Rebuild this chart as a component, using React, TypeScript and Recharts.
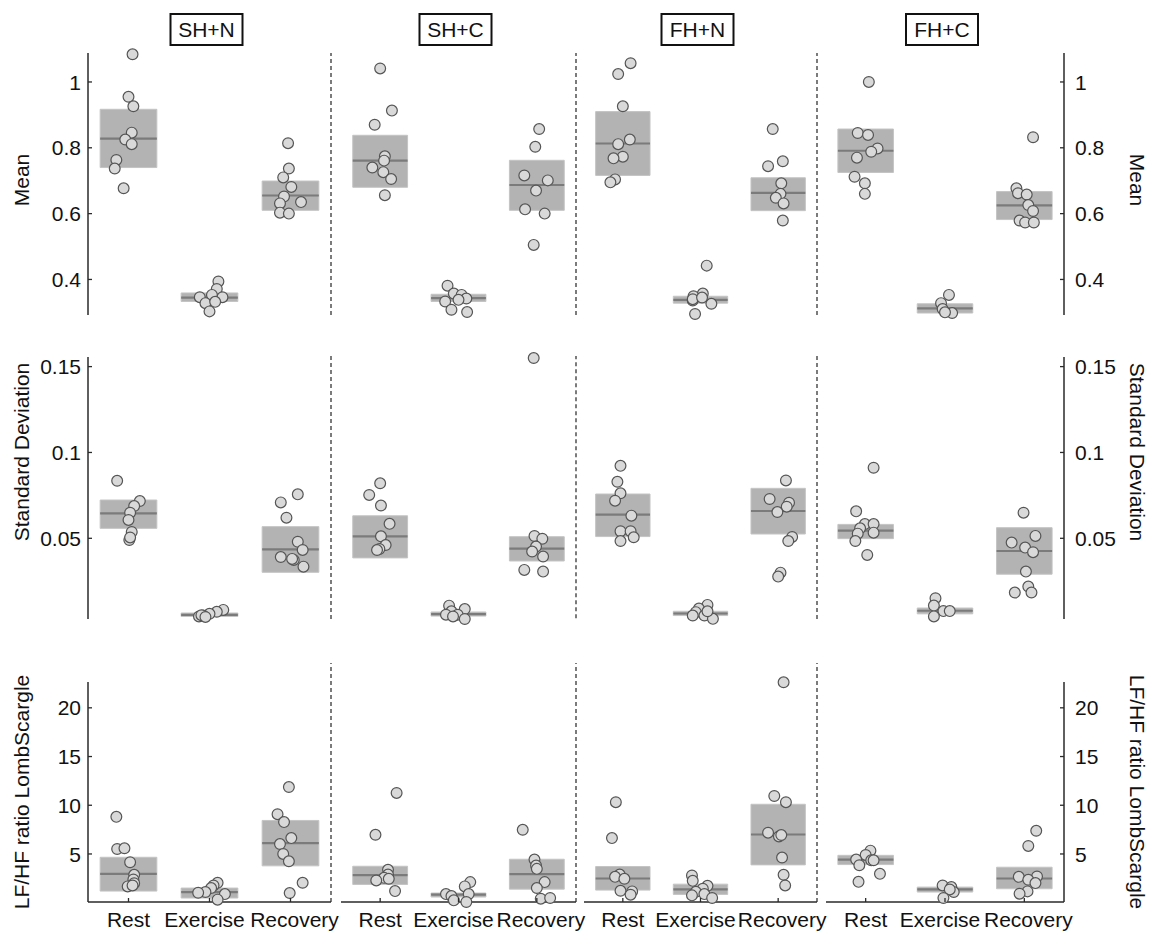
import React from "react";
import {
  ComposedChart,
  Scatter,
  XAxis,
  YAxis,
  ReferenceArea,
  ReferenceLine,
} from "recharts";

// labels
const groups = ["SH+N", "SH+C", "FH+N", "FH+C"];
const categories = ["Rest", "Exercise", "Recovery"];
const rowLabels = ["Mean", "Standard Deviation", "LF/HF ratio LombScargle"];

// axes
const meanTicks = [0.4, 0.6, 0.8, 1];
const sdTicks = [0.05, 0.1, 0.15];
const lfhfTicks = [5, 10, 15, 20];
const meanDomain = [0.292, 1.088];
const sdDomain = [0.003, 0.1556];
const lfhfDomain = [0.07, 22.65];

// points: [horizontal jitter, value] per category (Rest, Exercise, Recovery)
const meanSHN = [
  [[0.05, 1.084], [0, 0.955], [0.06, 0.926], [0.04, 0.846], [-0.04, 0.825], [0.04, 0.811], [-0.15, 0.763], [-0.17, 0.737], [-0.06, 0.677]],
  [[0.11, 0.394], [0.09, 0.371], [0.03, 0.353], [-0.12, 0.346], [0.16, 0.346], [-0.05, 0.328], [0.07, 0.332], [0, 0.303]],
  [[-0.03, 0.814], [-0.02, 0.737], [-0.09, 0.71], [0.01, 0.681], [-0.08, 0.652], [0.13, 0.635], [-0.13, 0.631], [-0.13, 0.603], [-0.02, 0.6]],
];
const meanSHC = [
  [[0, 1.041], [0.15, 0.913], [-0.07, 0.87], [0.06, 0.774], [0.05, 0.761], [-0.1, 0.74], [0.04, 0.726], [0.14, 0.705], [0.06, 0.656]],
  [[-0.14, 0.381], [-0.06, 0.357], [0.04, 0.353], [0.1, 0.342], [-0.17, 0.333], [0, 0.338], [-0.09, 0.308], [0.11, 0.301]],
  [[0.03, 0.857], [-0.02, 0.803], [-0.16, 0.716], [0.14, 0.701], [-0.01, 0.67], [-0.15, 0.613], [0.1, 0.6], [-0.04, 0.505]],
];
const meanFHN = [
  [[0.1, 1.057], [-0.06, 1.024], [0, 0.926], [0.09, 0.825], [-0.06, 0.811], [0, 0.773], [-0.12, 0.768], [-0.1, 0.704], [-0.16, 0.695]],
  [[0.08, 0.442], [0.03, 0.357], [-0.09, 0.349], [-0.1, 0.336], [0.14, 0.326], [-0.07, 0.295], [-0.1, 0.34], [0.02, 0.345]],
  [[-0.07, 0.857], [0.06, 0.759], [-0.13, 0.744], [0.04, 0.692], [0.03, 0.66], [-0.03, 0.648], [0.07, 0.631], [0.06, 0.579]],
];
const meanFHC = [
  [[0.04, 1.0], [-0.1, 0.845], [0.03, 0.839], [0.15, 0.798], [0.07, 0.788], [-0.11, 0.77], [-0.14, 0.712], [-0.01, 0.692], [-0.01, 0.66]],
  [[0.05, 0.353], [-0.05, 0.328], [-0.03, 0.31], [0.09, 0.298], [0, 0.3]],
  [[0.11, 0.832], [-0.1, 0.677], [-0.08, 0.662], [0.03, 0.658], [0.05, 0.626], [0.11, 0.608], [-0.06, 0.579], [0.01, 0.573], [0.12, 0.573]],
];

const sdSHN = [
  [[-0.14, 0.0835], [0.14, 0.0717], [0.07, 0.0688], [0.02, 0.0649], [0, 0.0607], [0.04, 0.0537], [0.01, 0.049], [0.02, 0.0505]],
  [[0.17, 0.0083], [0.09, 0.0072], [0, 0.006], [-0.08, 0.005], [-0.13, 0.0045], [-0.1, 0.0052], [-0.05, 0.0042]],
  [[0.09, 0.0756], [-0.12, 0.0709], [-0.05, 0.062], [0.09, 0.048], [0.15, 0.0432], [-0.12, 0.0391], [0.04, 0.0374], [0.16, 0.0335], [0.02, 0.038]],
];
const sdSHC = [
  [[0, 0.0818], [-0.14, 0.075], [0.01, 0.0688], [0.12, 0.0581], [0.01, 0.0508], [0.07, 0.0457], [-0.01, 0.0434], [-0.04, 0.0428]],
  [[-0.12, 0.0103], [0.08, 0.0083], [-0.09, 0.007], [-0.16, 0.005], [-0.01, 0.005], [-0.07, 0.004], [0.08, 0.0025]],
  [[-0.04, 0.155], [-0.03, 0.051], [0.07, 0.0494], [-0.01, 0.0448], [-0.06, 0.0419], [0.08, 0.039], [-0.16, 0.0312], [0.08, 0.0302]],
];
const sdFHN = [
  [[-0.03, 0.0922], [-0.07, 0.0829], [-0.03, 0.0762], [-0.1, 0.0719], [0.11, 0.0632], [-0.03, 0.0541], [0.1, 0.0541], [0.14, 0.0506], [-0.03, 0.0484]],
  [[0.09, 0.0112], [-0.02, 0.0091], [-0.06, 0.007], [-0.1, 0.005], [0.05, 0.005], [0.16, 0.0031], [0.09, 0.0075]],
  [[0.1, 0.0837], [-0.11, 0.0729], [0.14, 0.0707], [0.11, 0.0684], [-0.01, 0.0653], [0.18, 0.0508], [0.13, 0.0484], [0.03, 0.03], [0, 0.0277]],
];
const sdFHC = [
  [[0.1, 0.0911], [-0.12, 0.0657], [-0.01, 0.0583], [0.1, 0.0583], [-0.07, 0.0558], [-0.1, 0.0527], [0.1, 0.0533], [-0.13, 0.0484], [0.02, 0.0403]],
  [[-0.12, 0.0151], [-0.14, 0.0108], [-0.02, 0.0076], [0.06, 0.0076], [-0.14, 0.0045]],
  [[-0.01, 0.0649], [0.14, 0.0514], [-0.16, 0.0475], [0.01, 0.0446], [0.11, 0.0419], [0.02, 0.0306], [0.05, 0.0219], [-0.12, 0.0184], [0.09, 0.0184]],
];

const lfSHN = [
  [[-0.15, 8.81], [-0.14, 5.51], [-0.05, 5.58], [0.02, 4.15], [0.07, 2.86], [0.06, 2.38], [0.07, 2.0], [-0.01, 1.67], [0.05, 1.77]],
  [[0.1, 2.04], [0.05, 1.77], [0.02, 1.5], [-0.05, 1.09], [-0.14, 1.02], [0.19, 0.88], [0.1, 0.31]],
  [[-0.02, 11.87], [-0.16, 9.08], [-0.08, 8.27], [0.01, 6.63], [-0.13, 6.02], [-0.09, 5.0], [-0.02, 4.25], [0.15, 2.04], [-0.01, 0.99]],
];
const lfSHC = [
  [[0.21, 11.26], [-0.06, 6.97], [0.1, 3.37], [0.1, 2.89], [0.05, 2.55], [-0.05, 2.28], [0.11, 2.45], [0.19, 1.19]],
  [[0.15, 2.11], [0.08, 1.67], [-0.16, 0.88], [0.13, 0.88], [-0.09, 0.68], [-0.06, 0.24], [0.1, 0.07]],
  [[-0.18, 7.48], [-0.03, 4.42], [-0.01, 3.81], [0, 3.47], [0.1, 2.11], [0, 1.5], [0.05, 0.41], [0.17, 0.48]],
];
const lfFHN = [
  [[-0.09, 10.31], [-0.14, 6.63], [-0.04, 2.89], [-0.1, 2.65], [0.02, 2.45], [-0.03, 1.22], [0.12, 1.16], [0.1, 0.82]],
  [[-0.11, 2.79], [-0.1, 2.24], [0.09, 1.73], [0.03, 1.43], [-0.06, 1.12], [-0.11, 0.75], [0.05, 0.88], [0.15, 0.48]],
  [[0.07, 22.62], [-0.05, 10.95], [0.1, 10.31], [-0.13, 7.18], [0.01, 6.8], [0.04, 6.94], [0.05, 4.63], [0.07, 2.86], [0.09, 1.77]],
];
const lfFHC = [
  [[0.06, 5.34], [0, 4.9], [-0.12, 4.42], [0.07, 4.35], [0.1, 4.35], [-0.08, 3.84], [0.18, 2.96], [-0.09, 2.14]],
  [[-0.03, 1.77], [0.08, 1.6], [0.11, 1.09], [0.06, 1.36], [-0.02, 0.48]],
  [[0.15, 7.38], [0.05, 5.82], [-0.07, 2.65], [0.16, 2.69], [0.05, 2.35], [0.14, 2.01], [0.04, 1.16], [-0.06, 0.92]],
];

// boxes: [low, middle, high] per category
const meanBoxSHN = [[0.74, 0.828, 0.917], [0.333, 0.345, 0.359], [0.61, 0.655, 0.699]];
const meanBoxSHC = [[0.68, 0.761, 0.838], [0.333, 0.343, 0.355], [0.61, 0.687, 0.762]];
const meanBoxFHN = [[0.716, 0.813, 0.91], [0.328, 0.338, 0.349], [0.609, 0.663, 0.709]];
const meanBoxFHC = [[0.725, 0.791, 0.857], [0.298, 0.312, 0.326], [0.582, 0.625, 0.667]];
const sdBoxSHN = [[0.0558, 0.0645, 0.0723], [0.0045, 0.0054, 0.0065], [0.0302, 0.0436, 0.0568]];
const sdBoxSHC = [[0.0382, 0.0508, 0.0628], [0.0042, 0.0054, 0.0066], [0.0364, 0.0436, 0.0506]];
const sdBoxFHN = [[0.051, 0.0638, 0.0758], [0.005, 0.0062, 0.0075], [0.0525, 0.0659, 0.0791]];
const sdBoxFHC = [[0.0498, 0.0545, 0.0581], [0.006, 0.0078, 0.0094], [0.0291, 0.0426, 0.0562]];
const lfBoxSHN = [[1.19, 2.96, 4.66], [0.48, 1.09, 1.5], [3.78, 6.12, 8.44]];
const lfBoxSHC = [[1.87, 2.82, 3.74], [0.58, 0.82, 0.99], [1.39, 2.93, 4.46]];
const lfBoxFHN = [[1.29, 2.48, 3.71], [0.85, 1.36, 1.9], [3.88, 7.0, 10.1]];
const lfBoxFHC = [[3.91, 4.42, 4.86], [1.09, 1.36, 1.6], [1.43, 2.48, 3.64]];

const rowPoints = [
  [meanSHN, meanSHC, meanFHN, meanFHC],
  [sdSHN, sdSHC, sdFHN, sdFHC],
  [lfSHN, lfSHC, lfFHN, lfFHC],
];
const rowBoxes = [
  [meanBoxSHN, meanBoxSHC, meanBoxFHN, meanBoxFHC],
  [sdBoxSHN, sdBoxSHC, sdBoxFHN, sdBoxFHC],
  [lfBoxSHN, lfBoxSHC, lfBoxFHN, lfBoxFHC],
];
const rowTicks = [meanTicks, sdTicks, lfhfTicks];
const rowDomains = [meanDomain, sdDomain, lfhfDomain];

// layout (pixels)
const PANEL_X = [
  { left: 88, right: 331 },
  { left: 341, right: 576 },
  { left: 584, right: 817 },
  { left: 826, right: 1064 },
];
const ROW_Y = [
  { top: 53, bottom: 315, dashExt: 0, labelY: 180 },
  { top: 357, bottom: 619, dashExt: 1, labelY: 452 },
  { top: 682, bottom: 902, dashExt: 19, labelY: 792 },
];
const LABEL_SHIFT = [0, -5, 4];
const FONT = "'Liberation Sans', Arial, Helvetica, sans-serif";
const FS = 21;
const AXIS = "#2a2a2a";
const HALF = 0.35;
const MT = 25;
const MB = 40;
const SIDE = 10;
const YW = 60;

const LeftTick = (props: any) => {
  const { x, y, payload } = props;
  const ax = x + 6;
  return (
    <g>
      <line x1={ax} x2={ax + 4} y1={y} y2={y} stroke={AXIS} strokeWidth={1.3} />
      <text x={x - 1} y={y} dy="0.36em" textAnchor="end" fontSize={FS} fontFamily={FONT} fill="#111">
        {String(payload.value)}
      </text>
    </g>
  );
};

const RightTick = (props: any) => {
  const { x, y, payload } = props;
  const ax = x - 11;
  return (
    <g>
      <line x1={ax} x2={ax - 4} y1={y} y2={y} stroke={AXIS} strokeWidth={1.3} />
      <text x={x} y={y} dy="0.36em" textAnchor="start" fontSize={FS} fontFamily={FONT} fill="#111">
        {String(payload.value)}
      </text>
    </g>
  );
};

const BottomTick = (props: any) => {
  const { x, y, payload } = props;
  const i = payload.value - 1;
  return (
    <g>
      <line x1={x} x2={x} y1={y} y2={y - 4} stroke={AXIS} strokeWidth={1.3} />
      <text x={x + LABEL_SHIFT[i]} y={y + 25} textAnchor="middle" fontSize={FS} fontFamily={FONT} fill="#111">
        {categories[i]}
      </text>
    </g>
  );
};

const Dot = (props: any) => (
  <circle cx={props.cx} cy={props.cy} r={5.4} fill="#d9d9d9" stroke="#555" strokeWidth={1.2} />
);

function Panel({ row, g }: { row: number; g: number }) {
  const px = PANEL_X[g];
  const ry = ROW_Y[row];
  const pw = px.right - px.left;
  const ph = ry.bottom - ry.top;
  const first = g === 0;
  const last = g === 3;
  const bottom = row === 2;
  const domain = rowDomains[row];
  const leftW = SIDE + (first ? YW : 0);
  const width = leftW + pw + SIDE + (last ? YW : 0);
  const height = MT + ph + MB;
  const points = rowPoints[row][g];
  const boxes = rowBoxes[row][g];
  const data = points.flatMap((cat, i) => cat.map(([dx, v]) => ({ x: i + 1 + dx, y: v })));
  const dashTop = domain[1] + (ry.dashExt * (domain[1] - domain[0])) / ph;

  return (
    <div style={{ position: "absolute", left: px.left - leftW, top: ry.top - MT }}>
      <ComposedChart
        width={width}
        height={height}
        margin={{ top: MT, right: SIDE, bottom: bottom ? 10 : MB, left: SIDE }}
      >
        <XAxis
          type="number"
          dataKey="x"
          domain={[0.5, 3.5]}
          ticks={[1, 2, 3]}
          hide={!bottom}
          height={30}
          axisLine={{ stroke: AXIS, strokeWidth: 1.5 }}
          tickLine={false}
          tickSize={0}
          tickMargin={0}
          tick={<BottomTick />}
        />
        <YAxis
          type="number"
          dataKey="y"
          domain={domain}
          ticks={rowTicks[row]}
          hide={!(first || last)}
          orientation={last ? "right" : "left"}
          width={YW}
          axisLine={{ stroke: AXIS, strokeWidth: 1.5 }}
          tickLine={false}
          tickSize={0}
          tickMargin={last ? 11 : 6}
          tick={last ? <RightTick /> : <LeftTick />}
        />
        {boxes.map(([lo, , hi], i) => (
          <ReferenceArea
            key={`a${i}`}
            x1={i + 1 - HALF}
            x2={i + 1 + HALF}
            y1={lo}
            y2={hi}
            fill="#b3b3b3"
            fillOpacity={1}
            stroke="#c4c4c4"
            strokeWidth={1}
          />
        ))}
        {boxes.map(([, mid], i) => (
          <ReferenceLine
            key={`m${i}`}
            segment={[
              { x: i + 1 - HALF, y: mid },
              { x: i + 1 + HALF, y: mid },
            ]}
            stroke="#7b7b7b"
            strokeWidth={2.2}
          />
        ))}
        {!last && (
          <ReferenceLine
            segment={[
              { x: 3.5, y: domain[0] },
              { x: 3.5, y: dashTop },
            ]}
            ifOverflow="visible"
            stroke="#444"
            strokeWidth={1.4}
            strokeDasharray="4 3"
          />
        )}
        <Scatter data={data} dataKey="y" shape={<Dot />} isAnimationActive={false} />
      </ComposedChart>
    </div>
  );
}

export default function App() {
  return (
    <div
      style={{
        position: "absolute",
        left: 0,
        top: 0,
        width: 1149,
        height: 933,
        background: "#fff",
        overflow: "hidden",
        fontFamily: FONT,
      }}
    >
      {ROW_Y.map((_, row) => groups.map((_, g) => <Panel key={`${row}-${g}`} row={row} g={g} />))}
      <svg width={1149} height={933} style={{ position: "absolute", left: 0, top: 0, pointerEvents: "none" }}>
        {groups.map((name, g) => {
          const cx = (PANEL_X[g].left + PANEL_X[g].right) / 2 - 3;
          return (
            <g key={name}>
              <rect x={cx - 36} y={14} width={72} height={31} fill="#fff" stroke="#111" strokeWidth={2} />
              <text x={cx} y={37} textAnchor="middle" fontSize={FS} fontFamily={FONT} fill="#111">
                {name}
              </text>
            </g>
          );
        })}
        {rowLabels.map((label, row) => (
          <g key={label}>
            <text
              transform={`translate(22, ${ROW_Y[row].labelY}) rotate(-90)`}
              textAnchor="middle"
              dy="0.35em"
              fontSize={FS}
              fontFamily={FONT}
              fill="#111"
            >
              {label}
            </text>
            <text
              transform={`translate(1137, ${ROW_Y[row].labelY}) rotate(90)`}
              textAnchor="middle"
              dy="0.35em"
              fontSize={FS}
              fontFamily={FONT}
              fill="#111"
            >
              {label}
            </text>
          </g>
        ))}
      </svg>
    </div>
  );
}
